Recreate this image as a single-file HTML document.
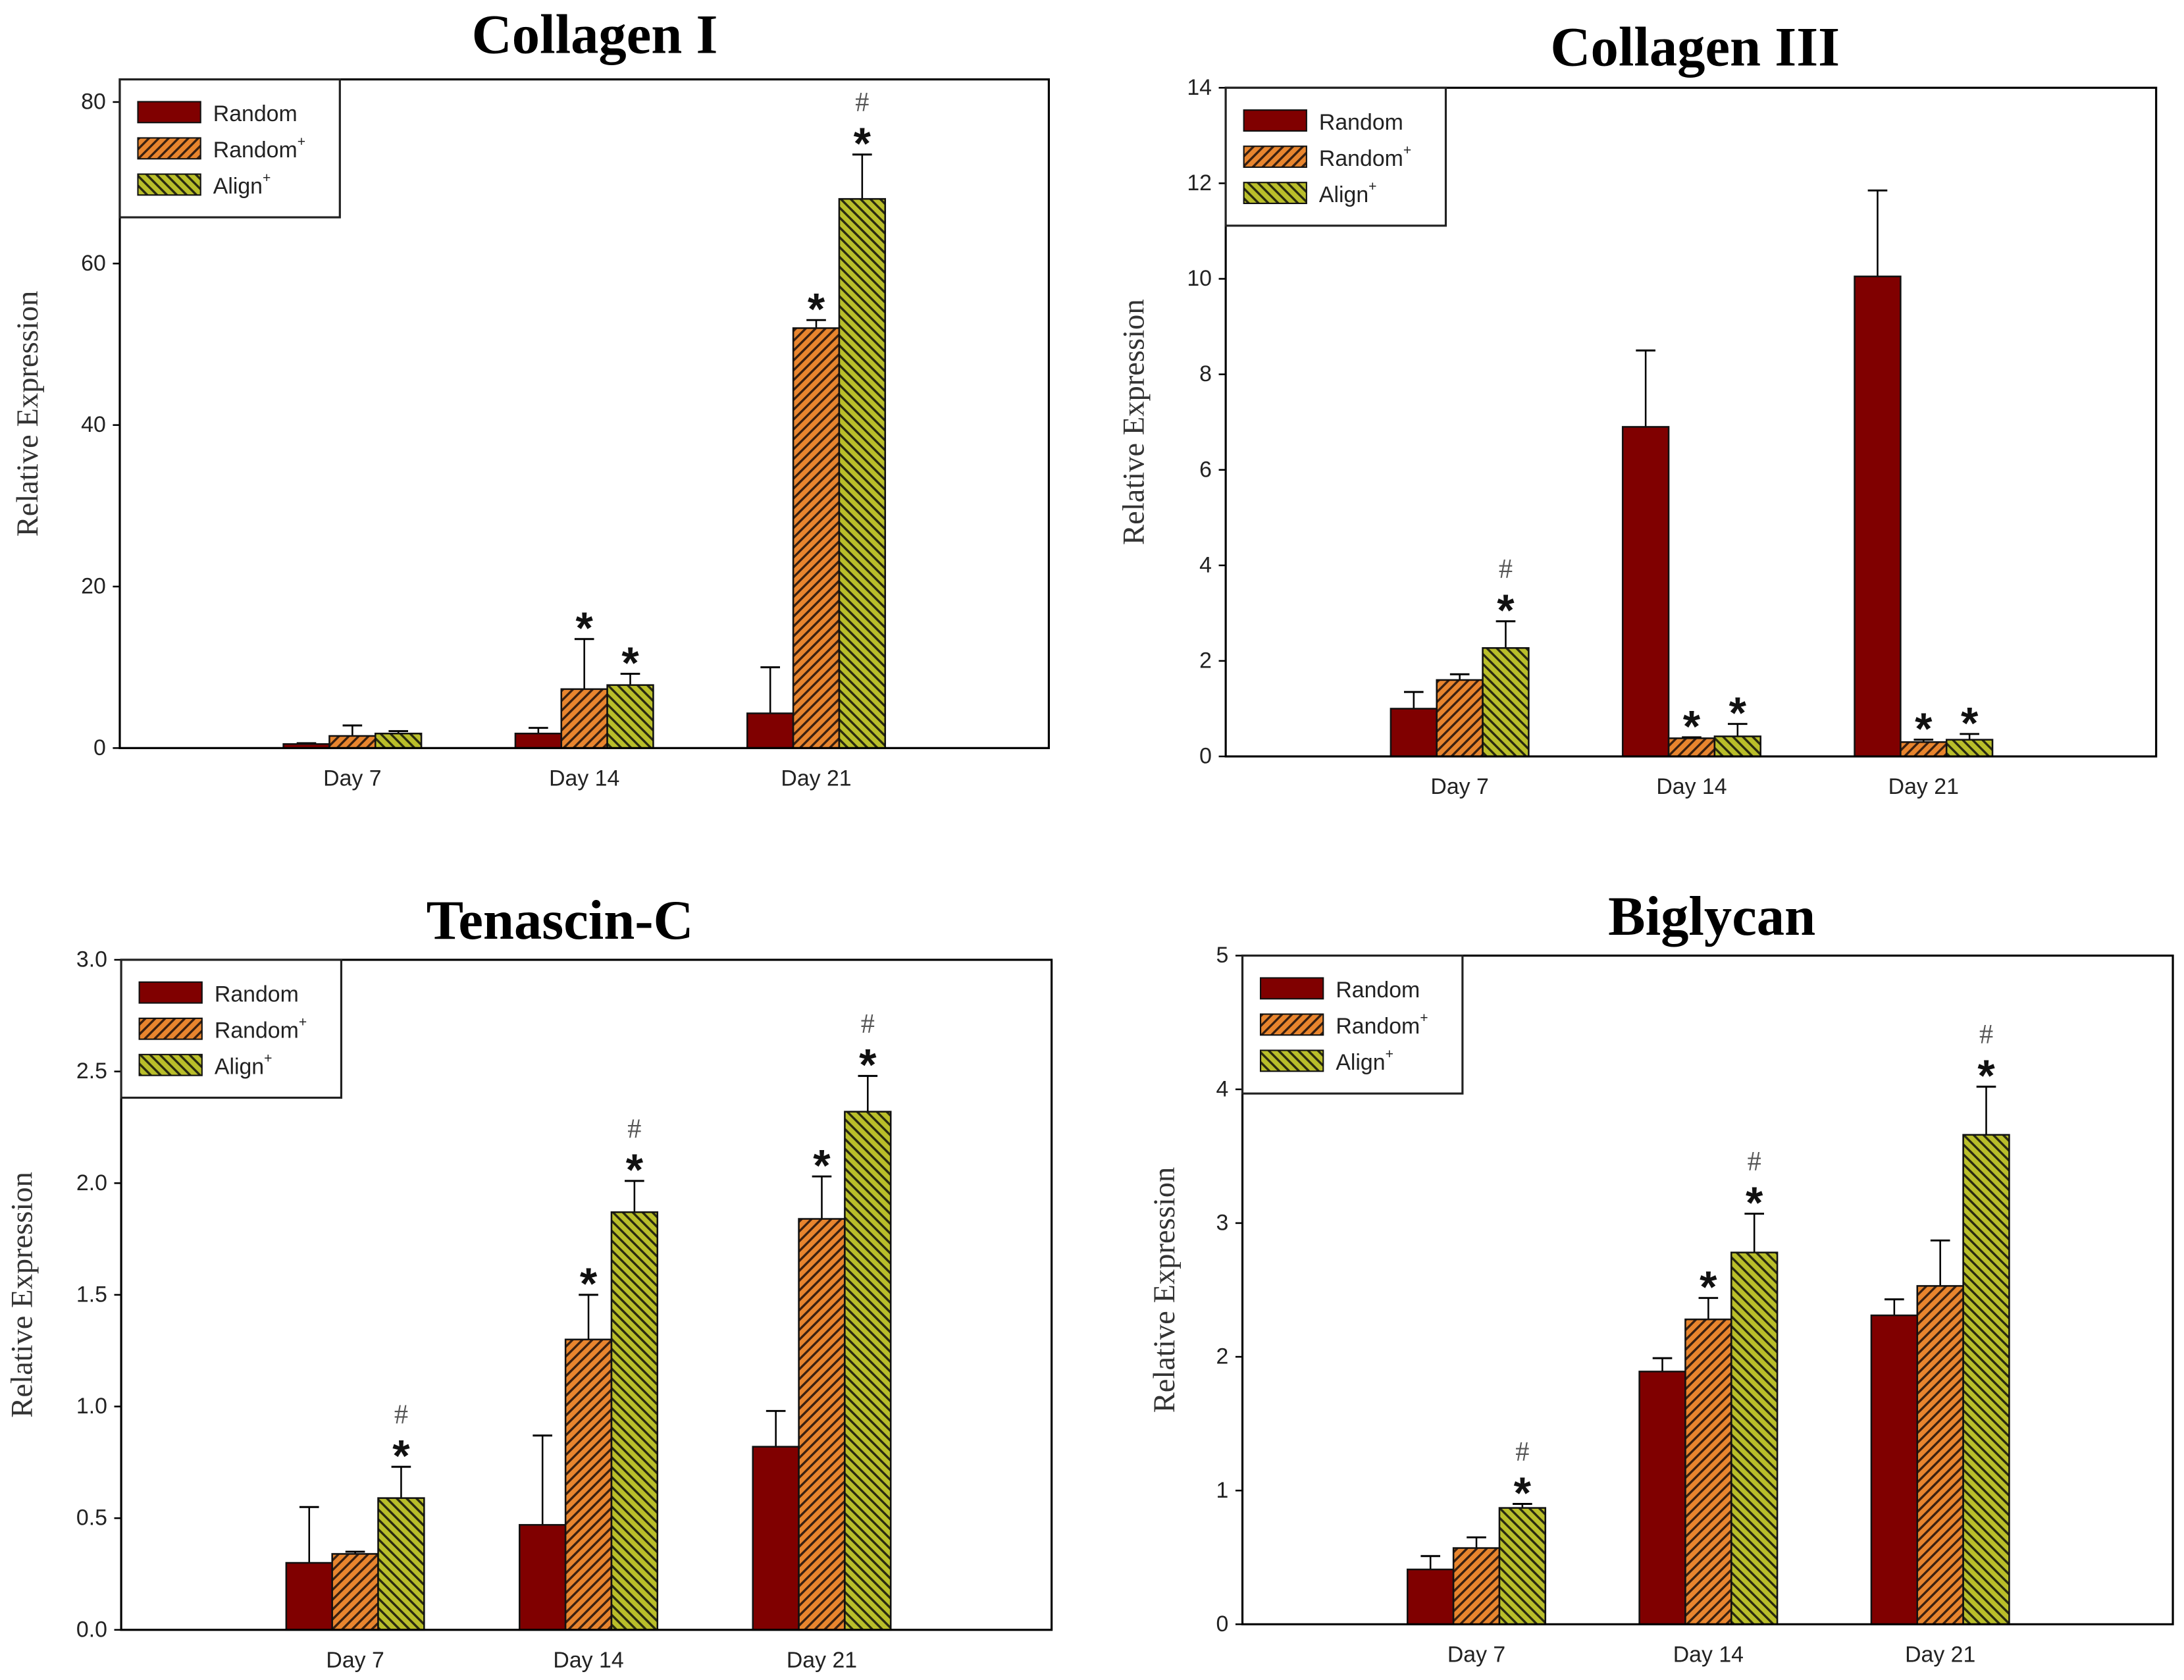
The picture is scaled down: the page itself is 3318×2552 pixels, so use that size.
<!DOCTYPE html>
<html><head><meta charset="utf-8"><style>
html,body{margin:0;padding:0;background:#fff;}
svg{display:block;}
.tick{font-family:"Liberation Sans",Arial,sans-serif;font-size:16px;fill:#222;}
.title{font-family:"Liberation Serif",serif;font-weight:bold;font-size:40px;fill:#000;}
.ylab{font-family:"Liberation Serif",serif;font-size:22px;fill:#333;}
.leg{font-family:"Liberation Sans",Arial,sans-serif;font-size:16px;fill:#222;}
.star{font-family:"Liberation Sans",Arial,sans-serif;font-size:32px;font-weight:bold;fill:#111;}
.hash{font-family:"Liberation Serif",serif;font-size:20px;fill:#555;}
</style></head><body>
<svg id="fig" width="3318" height="2552" viewBox="0 0 1568 1206" xmlns="http://www.w3.org/2000/svg">
<defs>
<pattern id="pOr" patternUnits="userSpaceOnUse" width="5" height="5" patternTransform="rotate(45)">
<rect width="5" height="5" fill="#e8852e"/><rect x="0" y="0" width="1.6" height="5" fill="#3a2010"/></pattern>
<pattern id="pGr" patternUnits="userSpaceOnUse" width="5" height="5" patternTransform="rotate(-45)">
<rect width="5" height="5" fill="#b9be2a"/><rect x="0" y="0" width="1.6" height="5" fill="#2a2a10"/></pattern>
</defs>
</svg>
<script>
var NS="http://www.w3.org/2000/svg";
var svg=document.getElementById('fig');
var categories=["Day 7","Day 14","Day 21"];
var seriesNames=["Random","Random+","Align+"];
// Collagen I
var col1Random=[0.5,1.8,4.3];
var col1RandomErr=[0.6,2.5,10];
var col1RandomP=[1.5,7.3,52];
var col1RandomPErr=[2.8,13.5,53];
var col1Align=[1.8,7.8,68];
var col1AlignErr=[2.1,9.2,73.5];
var col1Ticks=[0,20,40,60,80];
// Collagen III
var col3Random=[1.0,6.9,10.05];
var col3RandomErr=[1.35,8.5,11.85];
var col3RandomP=[1.6,0.38,0.3];
var col3RandomPErr=[1.72,0.4,0.35];
var col3Align=[2.27,0.42,0.35];
var col3AlignErr=[2.83,0.68,0.47];
var col3Ticks=[0,2,4,6,8,10,12,14];
// Tenascin-C
var tenRandom=[0.3,0.47,0.82];
var tenRandomErr=[0.55,0.87,0.98];
var tenRandomP=[0.34,1.3,1.84];
var tenRandomPErr=[0.35,1.5,2.03];
var tenAlign=[0.59,1.87,2.32];
var tenAlignErr=[0.73,2.01,2.48];
var tenTicks=["0.0","0.5","1.0","1.5","2.0","2.5","3.0"];
// Biglycan
var bigRandom=[0.41,1.89,2.31];
var bigRandomErr=[0.51,1.99,2.43];
var bigRandomP=[0.57,2.28,2.53];
var bigRandomPErr=[0.65,2.44,2.87];
var bigAlign=[0.87,2.78,3.66];
var bigAlignErr=[0.9,3.07,4.02];
var bigTicks=[0,1,2,3,4,5];
// annotations: [category, series, mark]
var col1Marks=[[1,1,"*"],[1,2,"*"],[2,1,"*"],[2,2,"*#"]];
var col3Marks=[[0,2,"*#"],[1,1,"*"],[1,2,"*"],[2,1,"*"],[2,2,"*"]];
var tenMarks=[[0,2,"*#"],[1,1,"*"],[1,2,"*#"],[2,1,"*"],[2,2,"*#"]];
var bigMarks=[[0,2,"*#"],[1,1,"*"],[1,2,"*#"],[2,2,"*#"]];

function el(tag,attrs,parent){var e=document.createElementNS(NS,tag);for(var k in attrs)e.setAttribute(k,attrs[k]);(parent||svg).appendChild(e);return e;}

function panel(o){
  var g=el('g',{});
  
  
  var L=o.x0,R=o.x1,T=o.y0,B=o.y1;
  function ys(v){return B-(v/o.ymax)*(B-T);}
  function xs(i){return o.c0+i*o.dc;}
  var t=el('text',{x:o.tx,y:o.ty,'text-anchor':'middle','class':'title'},g);t.textContent=o.title;
  
  var yl=el('text',{x:0,y:0,'text-anchor':'middle','class':'ylab',transform:'translate('+o.ylx+','+((T+B)/2)+') rotate(-90)'},g);
  yl.textContent='Relative Expression';
  
  o.ticks.forEach(function(tv){
    var v=parseFloat(tv),y=ys(v);
    var tl=el('line',{x1:L-5,x2:L,y1:y,y2:y,stroke:'#000','stroke-width':1.2},g);
    
    var tx=el('text',{x:L-10,y:y+5,'text-anchor':'end','class':'tick'},g);tx.textContent=tv;
    
  });
  categories.forEach(function(c,i){
    var tx=el('text',{x:xs(i),y:B+27,'text-anchor':'middle','class':'tick'},g);tx.textContent=c;
    
  });
  var fills=['#800000','url(#pOr)','url(#pGr)'];
  var bw=33;
  for(var s=0;s<3;s++){
    for(var i=0;i<3;i++){
      var v=o.vals[s][i],e=o.errs[s][i];
      var bx=xs(i)-1.5*bw+s*bw;
      var ex=bx+bw/2;
      var el1=el('line',{x1:ex,x2:ex,y1:ys(v),y2:ys(e),stroke:'#000','stroke-width':1.2},g);
      
      el('line',{x1:ex-7,x2:ex+7,y1:ys(e),y2:ys(e),stroke:'#000','stroke-width':1.4},g);
      var r=el('rect',{x:bx,y:ys(v),width:bw,height:B-ys(v),fill:fills[s],stroke:'#111','stroke-width':1.2},g);
      
      
    }
  }
  o.marks.forEach(function(m){
    var i=m[0],s=m[1],e=o.errs[s][i];
    var cx=xs(i)-1.5*bw+s*bw+bw/2,yt=ys(e);
    var st=el('text',{x:cx,y:yt+3,'text-anchor':'middle','class':'star'},g);st.textContent='*';
    
    if(m[2].indexOf('#')>=0){
      var h=el('text',{x:cx,y:yt-31,'text-anchor':'middle','class':'hash'},g);h.textContent='#';
      
    }
  });
  var fr=el('rect',{x:L,y:T,width:R-L,height:B-T,fill:'none',stroke:'#000','stroke-width':1.5},g);
  
  var lg=el('g',{},g);
  
  el('rect',{x:L,y:T,width:158,height:99,fill:'#fff',stroke:'#222','stroke-width':1.5},lg);
  var labels=[['Random',''],['Random','+'],['Align','+']];
  for(var k=0;k<3;k++){
    var ly=T+16+k*26;
    var sw=el('rect',{x:L+13,y:ly,width:45,height:15,fill:fills[k],stroke:'#111','stroke-width':1},lg);
    
    var lt=el('text',{x:L+67,y:ly+14,'class':'leg'},lg);
    
    lt.textContent=labels[k][0];
    if(labels[k][1]){var sp=el('tspan',{dy:-8,'font-size':10},lt);sp.textContent='+';}
  }
}

panel({name:'collagen-i',title:'Collagen I',tx:427,ty:38,x0:86,x1:753,y0:57,y1:537,ymax:82.8,c0:253,dc:166.5,ylx:27,
  ticks:col1Ticks.map(String),vals:[col1Random,col1RandomP,col1Align],errs:[col1RandomErr,col1RandomPErr,col1AlignErr],marks:col1Marks});
panel({name:'collagen-iii',title:'Collagen III',tx:1217,ty:47,x0:880,x1:1548,y0:63,y1:543,ymax:14,c0:1048,dc:166.5,ylx:821,
  ticks:col3Ticks.map(String),vals:[col3Random,col3RandomP,col3Align],errs:[col3RandomErr,col3RandomPErr,col3AlignErr],marks:col3Marks});
panel({name:'tenascin-c',title:'Tenascin-C',tx:402,ty:674,x0:87,x1:755,y0:689,y1:1170,ymax:3.0,c0:255,dc:167.5,ylx:23,
  ticks:tenTicks,vals:[tenRandom,tenRandomP,tenAlign],errs:[tenRandomErr,tenRandomPErr,tenAlignErr],marks:tenMarks});
panel({name:'biglycan',title:'Biglycan',tx:1229,ty:671,x0:892,x1:1560,y0:686,y1:1166,ymax:5,c0:1060,dc:166.5,ylx:843,
  ticks:bigTicks.map(String),vals:[bigRandom,bigRandomP,bigAlign],errs:[bigRandomErr,bigRandomPErr,bigAlignErr],marks:bigMarks});
</script>
</body></html>
